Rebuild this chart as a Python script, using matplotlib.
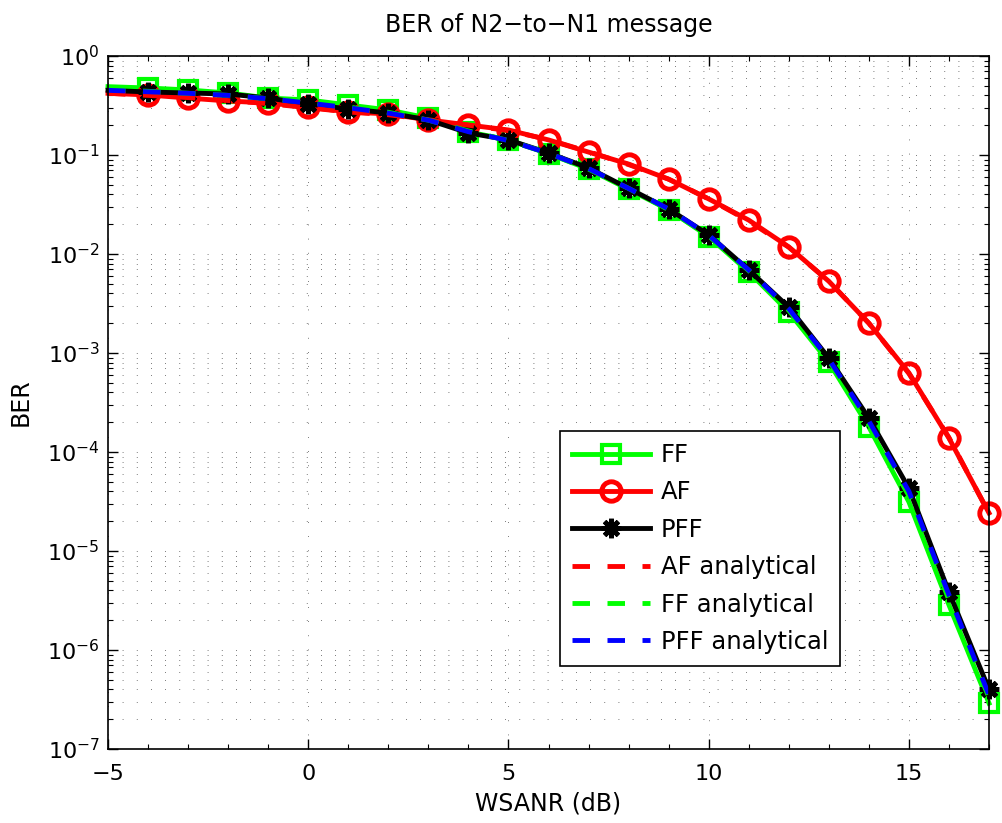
import numpy as np
import matplotlib
matplotlib.use('Agg')
import matplotlib.pyplot as plt
from matplotlib.ticker import FixedLocator, MultipleLocator, NullFormatter

plt.rcParams['font.family'] = ['DejaVu Sans']
plt.rcParams['mathtext.fontset'] = 'dejavusans'

# WSANR in dB
snr = list(range(-5, 18))

# simulated BER
ber_ff = [0.49, 0.475, 0.454, 0.423, 0.376, 0.36, 0.32, 0.285, 0.236, 0.171, 0.142, 0.103,
          0.072, 0.045, 0.028, 0.015, 0.0066, 0.0026, 8.1e-4, 1.79e-4, 3.13e-5, 2.85e-6, 2.9e-7]
ber_af = [0.42, 0.404, 0.376, 0.351, 0.335, 0.305, 0.272, 0.260, 0.226, 0.201, 0.179, 0.142,
          0.107, 0.081, 0.057, 0.036, 0.022, 0.0118, 0.0053, 0.0020, 6.3e-4, 1.38e-4, 2.42e-5]
ber_pff = [0.45, 0.433, 0.423, 0.413, 0.376, 0.327, 0.292, 0.266, 0.226, 0.167, 0.142, 0.105,
           0.074, 0.046, 0.0285, 0.0156, 0.0069, 0.0029, 8.9e-4, 2.2e-4, 4.3e-5, 3.85e-6, 4.0e-7]

# analytical BER
af_theory = [0.42, 0.40, 0.38, 0.355, 0.33, 0.30, 0.272, 0.255, 0.227, 0.200, 0.176, 0.143,
             0.108, 0.080, 0.057, 0.036, 0.0215, 0.0117, 0.0053, 0.0020, 6.2e-4, 1.4e-4, 2.4e-5]
ff_theory = [0.46, 0.44, 0.42, 0.40, 0.37, 0.34, 0.305, 0.27, 0.225, 0.175, 0.14, 0.104,
             0.072, 0.046, 0.028, 0.0152, 0.0068, 0.0027, 8.4e-4, 1.9e-4, 3.6e-5, 3.2e-6, 3.3e-7]
pff_theory = [0.45, 0.435, 0.42, 0.40, 0.37, 0.335, 0.30, 0.265, 0.225, 0.172, 0.140, 0.104,
              0.073, 0.046, 0.0285, 0.0155, 0.0069, 0.0028, 8.7e-4, 2.05e-4, 4.0e-5, 3.6e-6, 3.5e-7]

fig = plt.figure(figsize=(10.03, 8.23), dpi=100)
ax = fig.add_axes([108 / 1003, 1 - 749 / 823, 881 / 1003, 693 / 823])

lw = 3.5
# markers start at -4 dB; markers at the right edge are not clipped
mk = dict(markevery=slice(1, None), markerfacecolor='none', clip_on=False)
ax.semilogy(snr, ber_ff, '-', color=(0, 1, 0), lw=lw, marker='s', ms=13, mew=3,
            label='FF', **mk)
ax.semilogy(snr, ber_af, '-', color=(1, 0, 0), lw=lw, marker='o', ms=14, mew=3.5,
            label='AF', **mk)
ax.semilogy(snr, ber_pff, '-', color='k', lw=lw, marker=(8, 2, 0), ms=14, mew=3.5,
            label='PFF', **mk)
dash = (0, (3.6, 3.6))
ax.semilogy(snr, af_theory, color=(1, 0, 0), lw=lw, ls=dash, label='AF analytical')
ax.semilogy(snr, ff_theory, color=(0, 1, 0), lw=lw, ls=dash, label='FF analytical')
ax.semilogy(snr, pff_theory, color=(0, 0, 1), lw=lw, ls=dash, label='PFF analytical')

ax.set_xlim(-5, 17)
ax.set_ylim(1e-7, 1)
ax.xaxis.set_major_locator(MultipleLocator(5))
ax.xaxis.set_minor_locator(MultipleLocator(1))
decades = np.arange(-7, 1)
ax.yaxis.set_major_locator(FixedLocator(10.0 ** decades))
minor = [m * 10.0 ** d for d in decades[:-1] for m in range(2, 10)]
ax.yaxis.set_minor_locator(FixedLocator(minor))
ax.yaxis.set_minor_formatter(NullFormatter())

grid_ls = (0, (1, 16))
ax.grid(True, which='major', axis='both', color='0.3', lw=0.6, ls=grid_ls)
ax.grid(True, which='minor', axis='y', color='0.3', lw=0.6, ls=grid_ls)
ax.set_axisbelow(True)

ax.tick_params(which='both', direction='in', top=True, right=True, labelsize=16)
ax.tick_params(which='major', length=7, width=1)
ax.tick_params(which='minor', length=3.5, width=0.8)
ax.tick_params(axis='x', which='major', pad=11)
ax.tick_params(axis='y', which='major', pad=6)
for s in ax.spines.values():
    s.set_linewidth(1.2)

ax.set_title('BER of N2\u2212to\u2212N1 message', fontsize=17, pad=17)
ax.set_xlabel('WSANR (dB)', fontsize=17)
ax.set_ylabel('BER', fontsize=17)
ax.xaxis.set_label_coords(0.5, -0.062)
ax.yaxis.set_label_coords(-0.085, 0.5)

leg = ax.legend(loc='upper left', bbox_to_anchor=(0.513, 0.459), borderaxespad=0,
                fontsize=17.5, handlelength=3.2, labelspacing=0.55, handletextpad=0.45,
                borderpad=0.5, fancybox=False, framealpha=1, edgecolor='k')
leg.get_frame().set_linewidth(1.2)

fig.savefig('out.png', dpi=100)
